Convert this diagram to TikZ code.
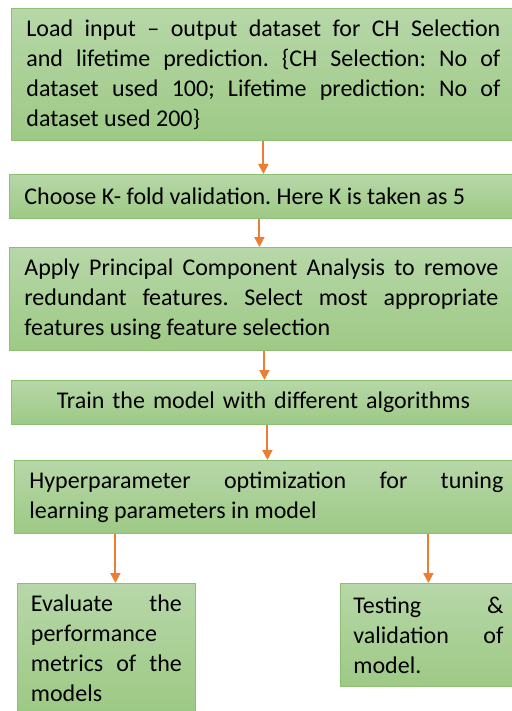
\documentclass[tikz,border=0pt]{standalone}
\usepackage{fontspec}
\setmainfont{Carlito}
\usetikzlibrary{arrows.meta}
\definecolor{boxtop}{HTML}{B7D7A8}
\definecolor{boxbot}{HTML}{9DC985}
\definecolor{boxline}{HTML}{8DBF72}
\definecolor{arrorange}{HTML}{ED7D31}
\hyphenpenalty=10000
\exhyphenpenalty=10000
\frenchspacing

\begin{document}
\begin{tikzpicture}[x=1pt, y=-1pt,
	every node/.style={draw=boxline, line width=0.8pt, top color=boxtop, bottom color=boxbot, anchor=north west, inner ysep=0pt, font=\fontsize{24}{30}\selectfont},
	widebox/.style={text width=474pt, inner xsep=15pt, align=justify},
	smallbox/.style={text width=151pt, inner xsep=13.5pt, align=justify},
	arr/.style={draw=arrorange, line width=2pt, -{Triangle[length=10pt, width=10pt]}}]
				\useasboundingbox (0,0) rectangle (511,711);
				% Nodes
				\node[widebox, minimum height=132pt] (load) at (11, 8) {Load input -- output dataset for CH Selection\linebreak and lifetime prediction. \{CH Selection: No of\linebreak dataset used 100; Lifetime prediction: No of\linebreak dataset used 200\}};
				\node[widebox, minimum height=44pt] (choose) at (9, 174) {Choose K- fold validation. Here K is taken as 5};
				\node[widebox, minimum height=103pt] (pca) at (9, 247) {Apply Principal Component Analysis to remove\linebreak redundant features. Select most appropriate\linebreak features using feature selection};
				\node[widebox, minimum height=44pt, align=center] (train) at (11, 380) {Train the model with different algorithms};
				\node[widebox, minimum height=73pt] (hyper) at (14, 460) {Hyperparameter optimization for tuning\linebreak learning parameters in model};
				\node[smallbox, minimum height=129pt] (eval) at (17, 583) {Evaluate the\linebreak performance\\ metrics of the\linebreak models};
				\node[smallbox, text width=150pt, inner xsep=13pt, minimum height=103pt] (test) at (340, 583) {Testing \&\linebreak validation of\linebreak model.};

				% Edges
				\draw[arr] (load.south) -- (load.south |- choose.north);
				\draw[arr] ([xshift=-2pt]choose.south) -- ([xshift=-2pt]choose.south |- pca.north);
				\draw[arr] ([xshift=3pt]pca.south) -- ([xshift=3pt]pca.south |- train.north);
				\draw[arr] ([xshift=4pt]train.south) -- ([xshift=4pt]train.south |- hyper.north);
				\draw[arr] ([xshift=9pt]eval.north |- hyper.south) -- ([xshift=9pt]eval.north);
				\draw[arr] (test.north |- hyper.south) -- (test.north);
			\end{tikzpicture}
\end{document}
